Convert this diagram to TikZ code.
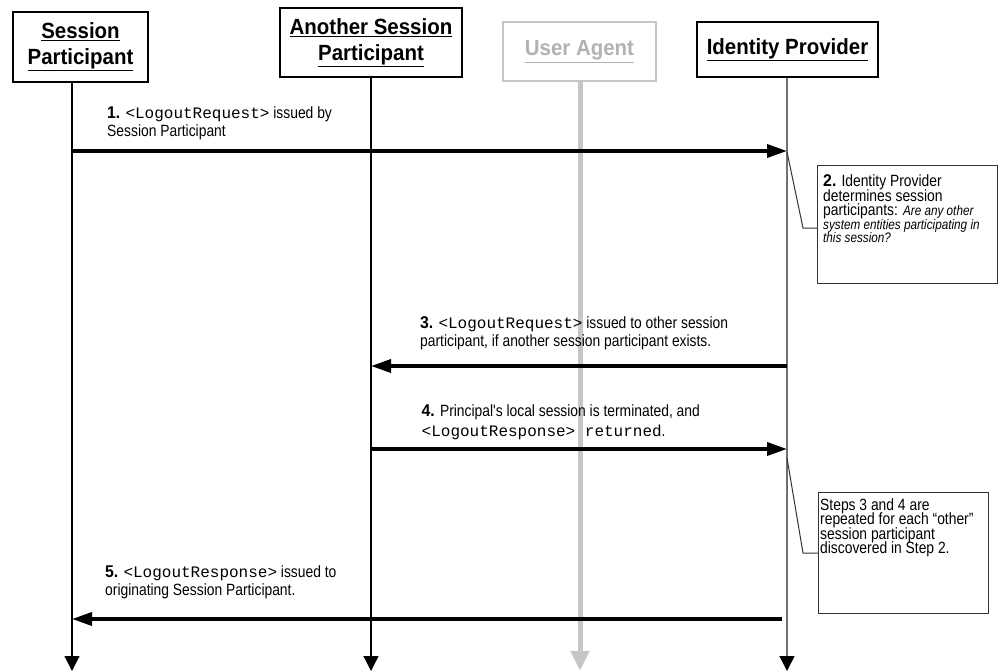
\documentclass[tikz,border=0pt]{standalone}
\usepackage{fontspec}
\setmainfont{Liberation Sans}
\setmonofont{Liberation Mono}
\newfontfamily\narrowsans{Liberation Sans}[FakeStretch=0.85]
\newfontfamily\titlesans{Liberation Sans}[FakeStretch=0.93]
\usetikzlibrary{arrows.meta}

\definecolor{agentgray}{HTML}{C6C6C6}
\definecolor{agenttext}{HTML}{B2B2B2}
\definecolor{idpgray}{HTML}{707070}
\definecolor{notegray}{HTML}{333333}

\newcommand{\numtag}[1]{{\titlesans\fontsize{17}{17}\selectfont\bfseries #1}}
\newcommand{\xmltag}[1]{{\fontsize{16}{16}\selectfont\ttfamily #1}}
\newcommand{\asktext}[1]{{\fontsize{13.8}{12}\selectfont\itshape #1}}

\begin{document}
\begin{tikzpicture}[x=1pt, y=-1pt,
  actor/.style={draw, line width=2.5pt, fill=white, align=center, inner sep=0pt,
    font=\titlesans\fontsize{22}{26}\selectfont\bfseries},
  agent/.style={draw=agentgray, text=agenttext},
  lifeline/.style={line width=1.3pt, -{Triangle[length=15pt, width=15pt]}},
  agentline/.style={agentgray, line width=5pt, -{Triangle[length=20pt, width=18pt]}},
  message/.style={line width=3.5pt, -{Triangle[length=20pt, width=13pt]}},
  steplabel/.style={anchor=north west, align=left, inner sep=0pt,
    font=\narrowsans\fontsize{16.3}{18}\selectfont},
  notebox/.style={draw=notegray, line width=1pt, anchor=north west, inner sep=0pt},
  notetext/.style={anchor=north west, align=left, inner sep=0pt,
    font=\narrowsans\fontsize{16.3}{14.5}\selectfont,
    execute at begin node={\setlength{\lineskiplimit}{-10pt}}},
  connector/.style={notegray, line width=1pt}
]
  \useasboundingbox (0,0) rectangle (1000,671);

  % Actors along the top
  \node[actor, minimum width=135pt, minimum height=70pt] (sp) at (80.5,47)
    {\underline{Session}\\\underline{Participant}};
  \node[actor, minimum width=182pt, minimum height=69pt] (asp) at (371,42.5)
    {\underline{Another Session}\\\underline{Participant}};
  \node[actor, agent, minimum width=153pt, minimum height=59pt] (ua) at (579.5,51.5)
    {\underline{User Agent}};
  \node[actor, minimum width=181pt, minimum height=55pt] (idp) at (787.5,49.5)
    {\underline{Identity Provider}};

  % Lifelines
  \coordinate (sp end)  at (72,671);
  \coordinate (asp end) at (371,671);
  \coordinate (ua end)  at (580,671);
  \coordinate (idp end) at (787,671);
  \draw[lifeline] (sp.south -| sp end) -- (sp end);
  \draw[lifeline] (asp.south -| asp end) -- (asp end);
  \draw[agentline] (ua.south -| ua end) -- (ua end);
  \draw[lifeline, idpgray, line width=1.5pt,
    -{Triangle[length=15pt, width=15pt, black]}] (idp.south -| idp end) -- (idp end);

  % Step 1: SP -> IdP
  \coordinate (m1 sp)  at (72,151);
  \coordinate (m1 idp) at (787,151);
  \draw[message] (m1 sp) -- (m1 idp);
  \node[steplabel] (l1) at (107,106)
    {\numtag{1.} \xmltag{<LogoutRequest>} issued by\\Session Participant};

  % Step 2: note on the IdP
  \node[notebox, minimum width=180pt, minimum height=118pt] (n1) at (817,165) {};
  \node[notetext] (n1 text) at (823,174.5)
    {\numtag{2.} Identity Provider\\
     determines session\\
     participants: \asktext{Are any other}\\[-1pt]
     \asktext{system entities participating in}\\[-1pt]
     \asktext{this session?}};
  \coordinate (n1 from) at (787,152);
  \coordinate (n1 bend) at (803,228);
  \draw[connector] (n1 from) -- (n1 bend) -- (n1 bend -| n1.west);

  % Step 3: IdP -> other SP
  \coordinate (m3 idp) at (787,366);
  \coordinate (m3 asp) at (371,366);
  \draw[message] (m3 idp) -- (m3 asp);
  \node[steplabel] (l3) at (420,316)
    {\numtag{3.} \xmltag{<LogoutRequest>} issued to other session\\
     participant, if another session participant exists.};

  % Step 4: other SP -> IdP
  \coordinate (m4 asp) at (371,449);
  \coordinate (m4 idp) at (787,449);
  \draw[message] (m4 asp) -- (m4 idp);
  \node[steplabel] (l4) at (421.5,404.8)
    {\numtag{4.} Principal's local session is terminated, and\\[2pt]
     \xmltag{<LogoutResponse> returned}.};

  % Repeat note
  \node[notebox, minimum width=170pt, minimum height=121pt] (n2) at (818,492) {};
  \node[notetext] (n2 text) at (820,498)
    {Steps 3 and 4 are\\repeated for each “other”\\session participant\\discovered in Step 2.};
  \coordinate (n2 from) at (787,458);
  \coordinate (n2 bend) at (803,553);
  \draw[connector] (n2 from) -- (n2 bend) -- (n2 bend -| n2.west);

  % Step 5: IdP -> SP
  \coordinate (m5 idp) at (782,619);
  \coordinate (m5 sp)  at (72,619);
  \draw[message] (m5 idp) -- (m5 sp);
  \node[steplabel] (l5) at (105,565)
    {\numtag{5.} \xmltag{<LogoutResponse>} issued to\\originating Session Participant.};
\end{tikzpicture}
\end{document}
